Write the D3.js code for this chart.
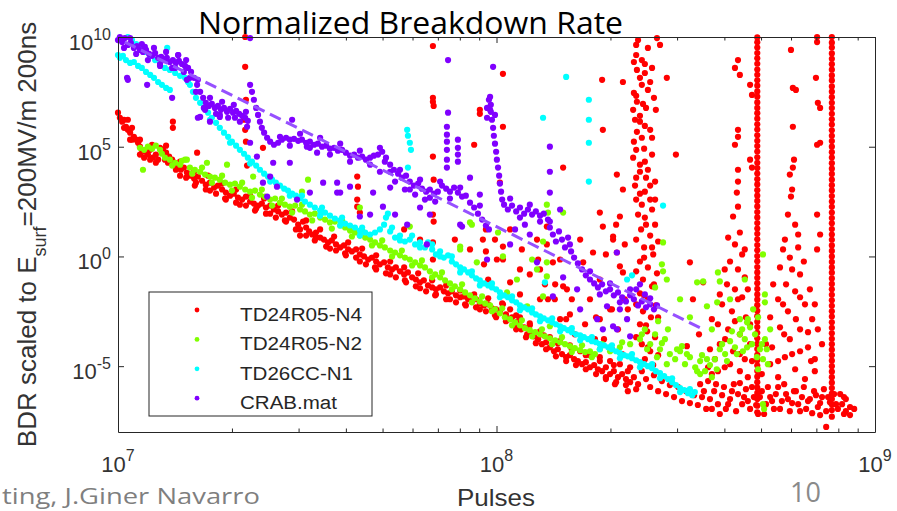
<!DOCTYPE html>
<html>
<head>
<meta charset="utf-8">
<script src="https://cdn.jsdelivr.net/npm/d3@7"></script>
<style>
  html, body { margin: 0; padding: 0; background: #fff; overflow: hidden; }
  svg { display: block; }
</style>
</head>
<body>
<div class="chart"></div>
<script>
// ---- data ------------------------------------------------------------
// every point is [log10(pulses), log10(BDR)]
var seriesNames = ["TD24R05-N4", "TD24R05-N2", "TD26CC-N1", "CRAB.mat"];
var seriesColors = ["#ff0000", "#80ff00", "#00ffff", "#8000ff"];

var n4 = [
  [7.000,6.55],[7.005,6.32],[7.011,6.14],[7.016,6.23],[7.021,5.91],[7.026,5.77],[7.032,5.64],[7.037,5.86],[7.042,5.45],[7.048,5.32],
  [7.053,5.18],[7.058,5.00],[7.063,4.86],[7.071,4.77],[7.079,4.64],[7.085,4.86],[7.092,4.50],[7.100,4.64],[7.106,4.41],[7.111,4.95],
  [7.119,4.86],[7.127,4.73],[7.135,4.55],[7.143,4.41],[7.151,4.27],[7.159,4.09],[7.166,3.95],[7.174,4.05],[7.182,3.82],[7.190,3.68],
  [7.201,3.55],[7.211,3.64],[7.222,3.45],[7.232,3.27],[7.243,3.36],[7.254,3.14],[7.264,3.23],[7.275,3.05],[7.285,2.91],[7.296,2.77],
  [7.306,2.86],[7.317,2.68],[7.328,2.59],[7.338,2.73],[7.349,2.50],[7.359,2.41],[7.370,2.32],[7.380,2.41],[7.391,2.23],[7.402,2.32],
  [7.412,2.14],[7.423,2.05],[7.433,1.91],[7.444,2.00],[7.454,1.77],[7.465,1.68],[7.476,1.45],[7.481,1.23],[7.489,1.59],[7.497,1.32],
  [7.505,1.14],[7.513,1.00],[7.523,1.09],[7.534,0.86],[7.544,0.77],[7.555,0.64],[7.565,0.73],[7.576,0.55],[7.587,0.41],[7.597,0.50],
  [7.608,0.32],[7.618,0.23],[7.629,0.32],[7.639,0.09],[7.650,0.00],[7.661,-0.14],[7.671,-0.05],[7.682,-0.23],[7.692,-0.36],[7.703,-0.27],
  [7.713,-0.50],[7.724,-0.59],[7.734,-0.50],[7.745,-0.68],[7.756,-0.82],[7.766,-0.73],[7.777,-0.95],[7.787,-1.05],[7.798,-1.18],[7.808,-1.09],
  [7.819,-1.32],[7.830,-1.41],[7.840,-1.50],[7.851,-1.41],[7.861,-1.59],[7.872,-1.68],[7.882,-1.59],[7.893,-1.77],[7.904,-1.86],[7.914,-1.82],
  [7.925,-1.95],[7.935,-2.05],[7.946,-1.95],[7.956,-2.14],[7.967,-2.23],[7.978,-2.18],[7.988,-2.36],[7.999,-2.41],[8.009,-2.50],
  [7.032,5.32],[7.058,4.64],[7.085,4.41],[7.124,4.41],[7.164,3.68],[7.203,3.23],[7.243,3.00],[7.283,2.64],[7.322,2.36],[7.362,2.09],
  [7.402,1.95],[7.441,1.64],[7.481,0.95],[7.520,0.73],[7.560,0.36],[7.600,0.14],[7.639,-0.23],[7.679,-0.50],[7.719,-0.82],[7.758,-1.09],
  [7.798,-1.45],[7.838,-1.77],[7.877,-1.95],[7.917,-2.18],[7.956,-2.41],[7.996,-2.68],
  [7.016,5.86],[7.037,5.32],[7.069,4.50],[7.100,4.27],[7.132,4.27],[7.153,3.95],[7.180,3.59],[7.206,3.36],[7.232,3.05],[7.259,2.86],
  [7.285,2.59],[7.312,2.45],[7.338,2.32],[7.365,2.18],[7.391,1.95],[7.417,1.77],[7.444,1.59],[7.470,1.23],[7.497,0.95],[7.523,0.86],
  [7.550,0.45],[7.576,0.27],[7.602,0.05],[7.629,-0.05],[7.655,-0.36],[7.682,-0.59],[7.708,-0.77],[7.734,-0.95],[7.761,-1.18],[7.787,-1.36],
  [7.814,-1.59],[7.840,-1.73],[7.867,-1.95],[7.893,-2.09],[7.919,-2.23],[7.946,-2.32],[7.972,-2.50],[7.999,-2.77],[8.025,-2.95],[8.052,-3.32],
  [8.078,-3.68],[8.104,-3.95],[8.131,-4.23],[8.157,-4.55],[8.184,-4.77],[8.210,-4.95],[8.236,-5.14],[8.263,-5.36],[8.289,-5.50],[8.316,-5.73],
  [8.342,-5.86],[8.369,-6.05],
  [7.026,6.23],[7.058,5.32],[7.090,5.09],[7.127,5.05],[7.164,4.32],[7.201,3.86],[7.238,3.68],[7.275,3.32],[7.312,3.05],[7.349,2.77],
  [7.386,2.64],[7.423,2.32],[7.460,2.05],[7.497,1.64],[7.534,1.23],[7.571,0.91],[7.608,0.64],[7.645,0.36],[7.682,0.05],[7.719,-0.23],
  [7.756,-0.50],[7.793,-0.77],[7.830,-1.09],[7.867,-1.32],[7.904,-1.55],[7.941,-1.73],[7.978,-1.91],[8.015,-2.14],[8.052,-2.68],[8.088,-3.14],
  [8.125,-3.59],[8.162,-3.95],[8.199,-4.23],[8.236,-4.50],[8.273,-4.77],[8.310,-4.95],[8.347,-5.23],
  [8.017,-2.18],[8.025,-2.64],[8.033,-2.86],[8.041,-2.77],[8.049,-3.09],[8.057,-2.95],[8.065,-3.32],[8.073,-3.23],[8.081,-3.55],[8.088,-3.45],
  [8.099,-3.64],[8.110,-3.77],[8.120,-4.00],[8.131,-3.91],[8.141,-4.14],[8.152,-4.32],[8.162,-4.23],[8.173,-4.45],[8.184,-4.59],[8.194,-4.50],
  [8.205,-4.68],[8.215,-4.77],[8.226,-4.91],[8.236,-4.82],[8.247,-5.05],[8.258,-4.95],[8.268,-5.14],[8.279,-5.23],[8.289,-5.05],[8.300,-5.36],
  [8.310,-5.23],[8.321,-5.50],[8.332,-5.36],[8.342,-5.59],[8.353,-5.73],[8.363,-5.50],[8.374,-5.82],
  [8.036,-2.41],[8.062,-2.77],[8.088,-3.05],[8.115,-3.41],[8.141,-3.68],[8.168,-3.86],[8.194,-4.05],[8.221,-4.32],[8.247,-4.50],[8.273,-4.59],
  [8.300,-4.77],[8.326,-4.91],[8.353,-5.05],
  [8.384,-5.23],[8.395,-5.59],[8.406,-5.95],[8.416,-5.41],[8.427,-6.14],[8.437,-5.68],[8.448,-6.27],[8.458,-5.86],[8.469,-6.41],[8.480,-5.95],
  [8.490,-6.59],[8.501,-6.14],[8.511,-6.68],[8.522,-6.32],[8.532,-6.77],[8.543,-6.41],[8.554,-6.95],[8.564,-6.50],[8.575,-6.14],[8.585,-6.73],
  [8.596,-6.32],[8.606,-6.95],[8.617,-6.50],
  [8.627,-5.82],[8.638,-6.27],[8.649,-6.73],[8.659,-6.05],[8.670,-6.95],[8.680,-6.41],[8.691,-7.18],[8.701,-6.14],[8.712,-6.73],[8.723,-6.41],
  [8.733,-6.95],[8.744,-5.95],[8.754,-6.59],[8.765,-6.27],[8.775,-7.05],[8.786,-6.14],[8.797,-6.73],[8.807,-6.41],[8.818,-6.95],[8.828,-6.50],
  [8.839,-6.14],[8.849,-6.86],[8.860,-6.41],[8.871,-7.05],[8.881,-6.64],[8.892,-6.27],[8.902,-6.95],[8.913,-6.73],[8.923,-7.05],[8.934,-6.86],
  [8.918,-6.41],[8.871,-7.77],
  [8.538,-5.82],[8.548,-6.14],[8.559,-5.68],[8.569,-6.95],[8.580,-5.82],[8.590,-7.18],[8.601,-5.95],[8.612,-6.73],[8.622,-6.14],[8.633,-7.05],
  [8.643,-5.77],[8.654,-6.41],[8.664,-6.59],[8.675,-5.95],[8.686,-6.77],[8.696,-6.41],[8.707,-7.18],[8.717,-5.95],[8.728,-6.59],[8.738,-6.27],
  [8.749,-6.95],[8.760,-5.82],[8.770,-6.50],[8.781,-6.68],[8.791,-6.14],[8.802,-7.05],[8.812,-5.95],[8.823,-6.59],[8.834,-7.14],[8.844,-6.32],
  [8.855,-6.68],[8.865,-6.05],[8.876,-6.41],[8.897,-6.73],[8.908,-6.27],[8.923,-6.50],[8.934,-7.23],[8.945,-6.95],[8.918,-7.18],[8.855,-7.23],
  // scattered breakdown bursts
  [7.336,10.0],[7.336,8.64],[7.338,7.14],[7.333,6.23],[7.336,5.77],[7.338,5.23],[7.341,4.14],[7.145,6.14],[7.145,5.86],[7.209,4.73],[7.383,4.95],
  [7.832,9.59],[7.832,7.23],[7.832,7.05],[7.834,6.86],[7.832,4.55],[7.834,3.50],[7.832,1.91],[7.834,1.59],[7.832,0.64],
  [7.956,6.68],[7.956,6.50],[7.941,5.09],[8.017,8.32],[8.017,5.91],[8.009,3.36],
  [7.632,3.64],[7.634,3.18],[7.632,2.59],[7.632,2.27],[7.639,2.00],
  [7.964,0.77],[7.972,0.23],[7.967,-0.36],[7.978,-1.05],[8.017,0.45],[8.017,-0.14],[8.107,0.77],[8.110,-0.14],[8.176,4.05],[8.036,-1.18],[8.062,-0.59],
  [8.133,1.36],[8.133,0.55],[8.149,-0.27],[8.176,-1.36],[8.186,-1.50],[8.229,-0.27],[8.255,0.18],[8.281,1.36],[8.308,0.91],[8.318,0.18],
  [8.326,-0.45],[8.334,-0.73],[8.273,2.00],[8.326,1.82],[8.308,0.77],[8.339,-1.95],[8.300,-2.41],[8.273,-2.86],[8.234,-3.09],[8.260,-3.77],
  [8.207,-3.55],[8.168,-2.86],[8.128,-1.27],[8.154,-1.95],[8.194,-2.64],[8.115,-1.95],
  [8.036,1.23],[8.067,0.32],[8.088,-0.82],[8.136,-1.95],[8.168,-0.14],[8.199,-1.95],[8.221,0.77],[8.247,-1.95],[8.273,-1.05],[8.289,0.09],
  [8.305,-2.41],[8.316,1.45],[8.339,0.55],[8.347,-2.41],[8.321,-3.32],[8.263,-2.77],[8.184,-2.86],[8.155,-1.27],[8.115,-0.59],[8.062,-1.73],
  [8.001,-0.14],[7.996,0.77],[7.972,1.23],[7.930,0.32],[7.890,0.77],[7.832,-0.14],[7.798,0.77],[7.756,1.23],
  [8.284,-3.77],[8.305,-4.23],[8.332,-4.45],[8.347,-6.14],[8.313,-5.82],[8.289,-5.59],
  [8.369,9.64],[8.369,9.18],[8.384,8.95],[8.392,8.77],[8.371,8.50],[8.392,8.36],[8.379,8.14],[8.406,7.95],[8.400,7.59],[8.363,7.45],
  [8.371,7.05],[8.387,6.95],[8.361,6.68],[8.379,6.41],[8.421,6.68],[8.366,6.23],[8.392,5.95],[8.371,5.68],[8.411,5.41],[8.363,5.23],
  [8.390,4.91],[8.361,4.50],[8.392,4.32],[8.379,3.86],[8.395,3.59],[8.366,3.23],[8.406,3.23],[8.379,2.86],[8.419,2.59],[8.424,9.95],
  [8.432,9.64],[8.450,8.14],[8.474,4.64],[8.334,7.95],[8.279,8.05],[8.281,5.77],[8.318,3.73],[8.334,3.05],
  [8.374,9.86],[8.400,9.50],[8.363,8.86],[8.411,8.59],[8.384,7.82],[8.369,7.32],[8.416,7.23],[8.395,6.77],[8.379,6.14],[8.406,5.77],
  [8.384,5.41],[8.369,4.86],[8.411,4.64],[8.379,4.18],[8.400,3.95],[8.369,3.59],[8.419,3.41],[8.392,2.95],[8.369,2.59],[8.406,2.59],
  [8.374,1.91],[8.395,1.45],[8.369,0.77],[8.411,0.41],[8.390,-0.05],[8.369,-0.68],[8.416,-1.27],[8.390,-1.77],[8.369,-2.18],[8.427,-2.77],
  [8.395,-3.14],[8.369,-3.68],[8.400,-4.14],[8.427,-4.50],
  [8.384,2.36],[8.411,2.14],[8.392,1.77],[8.419,1.45],[8.382,1.23],[8.406,0.95],[8.427,0.68],[8.390,0.41],[8.414,0.09],[8.379,-0.23],
  [8.400,-0.50],[8.424,-0.77],[8.387,-1.05],[8.411,-1.36],[8.379,-1.68],[8.400,-1.95],[8.421,-2.23],[8.387,-2.50],[8.408,-2.77],[8.379,-3.09],
  [8.398,-3.41],[8.419,-3.68],[8.384,-4.00],[8.406,-4.32],[8.392,-4.68],[8.414,-4.95],
  [8.638,8.95],[8.630,8.59],[8.643,8.27],[8.670,7.82],[8.675,7.36],[8.638,5.77],[8.638,5.45],[8.630,5.09],[8.670,4.41],[8.675,4.05],
  [8.638,3.95],[8.638,3.41],[8.635,2.91],[8.638,2.27],[8.625,1.82],[8.643,1.09],[8.630,0.55],[8.649,0.09],[8.617,-0.23],[8.638,-0.59],
  [8.656,-0.95],[8.609,-1.27],[8.630,-1.50],[8.649,-1.86],[8.596,-2.18],[8.622,-2.50],[8.659,-2.77],[8.585,-3.09],[8.612,-3.32],[8.643,-3.55],
  [8.670,-4.00],[8.590,-4.00],[8.625,-4.32],[8.656,-4.68],[8.577,-4.68],[8.603,-5.05],[8.643,-5.23],[8.664,-5.50],[8.569,-5.36],
  [8.612,0.86],[8.656,0.32],[8.603,-0.59],[8.664,-1.50],[8.590,-1.73],[8.638,-1.95],[8.569,-2.86],[8.670,-3.09],[8.630,-2.95],[8.604,-3.77],
  [8.564,-4.23],[8.643,-4.45],[8.675,-4.77],[8.617,-4.91],[8.559,-5.05],[8.585,-5.23],
  [8.511,-0.27],[8.519,-1.95],[8.546,-1.18],[8.503,-4.09],[8.535,-3.55],
  [8.778,9.41],[8.783,7.68],[8.791,7.59],[8.783,5.91],[8.786,4.41],[8.783,4.05],[8.775,3.73],[8.781,3.05],[8.778,2.73],[8.770,1.91],
  [8.789,1.45],[8.762,0.77],[8.797,0.41],[8.775,-0.05],[8.749,-0.50],[8.802,-0.82],[8.765,-1.27],[8.789,-1.59],[8.744,-1.95],[8.815,-2.18],
  [8.770,-2.50],[8.791,-2.86],[8.749,-3.23],[8.823,-3.45],[8.775,-3.77],[8.728,-4.14],[8.802,-4.32],[8.762,-4.59],[8.831,-4.77],[8.723,-4.91],
  [8.789,-5.14],[8.744,-5.50],[8.815,-5.59],
  [8.797,1.00],[8.757,0.32],[8.812,-0.23],[8.781,-0.59],[8.731,-1.27],[8.828,-1.50],[8.802,-1.86],[8.757,-2.18],[8.723,-2.77],[8.834,-2.86],
  [8.802,-3.32],[8.760,-3.55],[8.712,-4.00],[8.823,-4.14],[8.781,-4.45],[8.744,-4.77],[8.841,-5.23],[8.701,-5.36],
  [8.847,10.0],[8.847,9.77],[8.844,8.14],[8.849,7.00],[8.855,6.77],[8.847,5.09],[8.855,5.18],[8.847,1.91],[8.855,1.00],[8.847,0.32],
  [8.841,-2.18],[8.849,-3.32],[8.860,-4.00],[8.841,-4.68]
];

// the two solid red columns (one pulse count, many rates)
var n4Columns = [
  { pulses: 8.689, bdr: [9.98,9.76,9.52,9.27,9.03,8.78,8.52,8.28,8.03,7.78,7.52,7.28,7.02,6.77,6.53,6.28,6.02,5.78,5.52,5.27,
    5.03,4.78,4.52,4.27,4.03,3.78,3.52,3.28,3.02,2.77,2.53,2.28,2.02,1.78,1.52,1.27,1.03,0.78,0.52,0.28,0.02,-0.22,-0.48,
    -0.73,-0.97,-1.22,-1.48,-1.73,-1.97,-2.22,-2.48,-2.72,-2.98,-3.22,-3.48,-3.73,-3.98,-4.22,-4.48,-4.73,-4.97,-5.22,-5.48,
    -5.73,-5.98,-6.22,-6.50,-6.80,-7.10] },
  { pulses: 8.886, bdr: [10.0,9.74,9.52,9.25,9.01,8.76,8.51,8.25,8.02,7.75,7.51,7.26,7.0,6.76,6.5,6.25,6.01,5.75,5.5,5.26,
    5.0,4.75,4.51,4.25,4.0,3.76,3.5,3.25,3.01,2.75,2.5,2.26,2.0,1.75,1.51,1.25,1.0,0.76,0.5,0.25,0.0,-0.25,-0.5,-0.74,-1.0,
    -1.25,-1.5,-1.75,-2.0,-2.25,-2.5,-2.74,-3.0,-3.25,-3.5,-3.75,-4.0,-4.25,-4.5,-4.75,-5.0,-5.25,-5.5,-5.75,-6.0,-6.25,
    -6.5,-6.75,-7.0,-7.3] }
];

var n2 = [
  [7.058,4.95],[7.069,4.86],[7.079,5.00],[7.090,4.91],[7.100,5.05],[7.111,4.86],[7.066,3.95],
  [7.124,4.50],[7.137,4.41],[7.151,4.27],[7.164,4.18],[7.177,4.41],[7.190,4.05],[7.203,3.95],[7.217,3.86],[7.230,3.73],[7.243,3.64],
  [7.256,3.59],[7.269,3.50],[7.283,3.36],[7.296,3.27],[7.309,3.32],[7.322,3.18],[7.336,3.05],[7.349,2.95],[7.362,3.00],[7.375,2.82],
  [7.388,2.73],[7.402,2.59],[7.415,2.64],[7.428,2.45],[7.441,2.36],[7.454,2.27],[7.468,2.32],[7.481,2.14],[7.494,2.05],[7.507,1.91],
  [7.520,1.95],[7.534,1.77],[7.547,1.68],[7.560,1.55],[7.573,1.59],[7.587,1.41],[7.600,1.32],[7.613,1.18],[7.626,1.09],[7.639,0.95],
  [7.653,0.86],[7.666,0.77],[7.679,0.64],[7.692,0.50],[7.705,0.41],[7.719,0.27],[7.732,0.18],[7.745,0.05],[7.758,-0.05],[7.771,-0.14],
  [7.785,-0.27],[7.798,-0.41],[7.811,-0.50],[7.824,-0.68],[7.838,-0.82],[7.851,-0.95],[7.864,-1.09],[7.877,-1.23],[7.890,-1.36],[7.904,-1.50],
  [7.917,-1.64],[7.930,-1.77],[7.943,-1.91],[7.956,-2.05],[7.970,-2.14],[7.983,-2.23],[7.996,-2.41],[8.009,-2.59],[8.022,-2.77],[8.036,-2.86],
  [8.049,-3.00],[8.062,-3.14],[8.075,-3.27],[8.088,-3.36],[8.102,-3.45],[8.115,-3.55],[8.128,-3.64],[8.141,-3.73],[8.155,-3.82],[8.168,-3.91],
  [8.181,-4.00],[8.194,-4.09],[8.207,-4.18],[8.221,-4.27],[8.234,-4.36],[8.247,-4.32],[8.260,-4.45],
  [7.143,4.14],[7.196,3.77],[7.248,3.36],[7.301,3.00],[7.354,2.68],[7.407,2.32],[7.460,2.00],[7.513,1.64],[7.565,1.27],[7.618,0.91],
  [7.671,0.50],[7.724,0.00],[7.777,-0.41],[7.830,-0.95],[7.882,-1.50],[7.935,-2.09],[7.988,-2.50],[8.041,-3.14],[8.094,-3.64],[8.147,-4.00],
  [8.199,-4.36],[8.252,-4.59],
  [7.116,4.68],[7.169,4.36],[7.222,4.05],[7.275,3.68],[7.328,3.36],[7.380,3.05],[7.433,2.64],[7.486,2.36],[7.539,2.00],[7.592,1.64],
  [7.645,1.18],[7.698,0.73],[7.750,0.27],[7.803,-0.18],[7.856,-0.73],[7.909,-1.27],[7.962,-1.82],[8.015,-2.36],[8.067,-2.91],[8.120,-3.32],
  [8.173,-3.68],[8.226,-4.05],[8.279,-4.00],[8.332,-3.91],[8.384,-3.55],[8.437,-3.95],[8.490,-4.09],[8.543,-4.50],[8.596,-4.00],[8.649,-3.32],
  [8.701,-4.00],
  [8.273,-4.23],[8.300,-4.32],[8.326,-4.14],[8.353,-4.00],[8.379,-3.77],[8.392,-3.32],[8.406,-4.00],[8.419,-3.55],[8.432,-4.23],[8.445,-3.77],
  [8.458,-4.45],[8.472,-4.68],[8.485,-4.32],[8.498,-4.91],[8.511,-4.59],[8.525,-5.05],[8.538,-4.77],[8.551,-5.23],[8.564,-4.95],[8.577,-4.68],
  [8.590,-4.23],[8.604,-4.45],[8.617,-3.86],[8.630,-4.14],[8.643,-3.55],[8.656,-3.77],[8.670,-3.23],[8.675,-4.00],[8.683,-3.55],[8.696,-4.23],
  [8.704,-4.68],[8.709,-3.77],[8.717,-4.91],[8.704,-6.73],[8.707,-6.95],[8.427,-2.95],[8.453,-3.32],[8.538,-5.36],[8.569,-5.50],[8.651,-4.32],
  [8.691,-5.14],
  [8.398,-4.23],[8.424,-4.59],[8.450,-4.91],[8.477,-4.23],[8.503,-4.45],[8.530,-5.23],[8.556,-4.68],[8.582,-5.14],[8.609,-4.77],[8.635,-4.45],
  [8.662,-4.14],[8.688,-4.59],[8.714,-4.23],[8.622,-3.41],[8.664,-2.86],
  [8.440,0.64],[8.437,-0.36],[8.440,-0.68],[8.450,-1.05],[8.419,-1.41],[8.530,-1.18],[8.546,-1.14],[8.556,-2.27],[8.585,-0.73],[8.590,-1.14],
  [8.583,-2.09],[8.704,0.09],[8.709,-1.73],[8.709,-2.09],[8.662,-3.00],[8.678,-2.41],[8.643,-2.86],
  [8.485,-1.95],[8.511,-2.77],[8.617,-1.95],[8.656,-1.05],[8.569,-3.32],[8.691,-2.77],[8.723,-3.32],
  [8.133,2.36],[7.930,1.55],[7.904,0.32],[7.948,-0.27],[8.028,-1.64],[8.081,-2.27],[8.123,-1.82],[8.054,-1.05],[8.133,-0.27],[8.133,-0.91],
  [8.141,-3.18],[7.235,4.27],[7.182,4.41],[7.288,4.18],[7.357,3.64],[7.486,2.95],[7.502,3.50],
  [7.639,2.23],[7.771,1.36],[7.904,0.45],[7.935,1.45],[8.004,1.09],[8.017,0.00],[8.094,-0.14],[8.123,0.68],[8.136,2.00],[8.176,2.00],
  [8.107,-0.59]
];

var cc = [
  [7.026,10.0],[7.037,9.86],[7.048,9.68],[7.058,9.50],[7.071,9.32],[7.085,9.14],[7.098,8.95],[7.111,8.77],[7.124,8.59],[7.137,8.50],
  [7.151,8.36],[7.164,8.23],[7.177,8.14],[7.185,7.95],[7.130,9.50],
  [7.000,9.18],[7.005,9.05],[7.013,9.14],[7.021,8.95],[7.032,8.82],[7.042,8.86],[7.053,8.68],[7.063,8.59],[7.074,8.41],[7.085,8.27],
  [7.095,8.14],[7.106,7.95],[7.116,7.82],[7.127,7.68],[7.137,7.59],
  [7.190,7.82],[7.198,7.50],[7.206,7.23],[7.217,7.00],[7.227,6.77],[7.238,6.55],[7.248,6.32],[7.259,6.09],[7.269,5.86],[7.280,5.64],
  [7.291,5.45],[7.301,5.23],[7.312,5.05],[7.322,4.86],[7.333,4.68],[7.343,4.50],[7.354,4.32],[7.365,4.14],[7.375,3.95],[7.386,3.77],
  [7.396,3.64],[7.407,3.50],[7.417,3.36],[7.428,3.23],[7.439,3.09],[7.449,3.00],[7.460,2.86],[7.470,2.77],[7.481,2.64],[7.494,2.50],
  [7.507,2.36],[7.520,2.23],[7.534,2.09],[7.547,2.00],[7.560,1.86],[7.573,1.73],[7.587,1.64],[7.600,1.50],[7.613,1.41],[7.626,1.32],
  [7.639,1.18],[7.653,1.09],[7.666,1.00],[7.679,1.09],[7.692,1.23],[7.703,1.45],[7.708,1.77],[7.713,1.95],[7.719,1.14],[7.732,0.86],
  [7.745,0.95],[7.758,0.68],[7.771,0.77],[7.785,0.55],[7.798,0.64],[7.811,0.41],[7.819,0.64],[7.830,0.32],[7.840,0.09],[7.851,0.23],
  [7.861,-0.05],[7.872,0.05],[7.882,-0.23],[7.893,-0.36],[7.904,-0.50],[7.914,-0.59],[7.925,-0.73],[7.935,-0.86],[7.946,-1.00],[7.956,-1.09],
  [7.967,-1.23],[7.978,-1.32],[7.988,-1.41],[7.999,-1.50],[8.009,-1.64],[8.020,-1.77],[8.030,-1.86],[8.041,-2.00],[8.052,-2.09],[8.062,-2.23],
  [8.073,-2.32],[8.083,-2.41],[8.094,-2.55],[8.104,-2.64],[8.115,-2.73],[8.125,-2.82],[8.136,-2.91],[8.147,-3.00],[8.157,-3.09],[8.168,-3.18],
  [8.178,-3.27],[8.189,-3.36],[8.199,-3.45],[8.210,-3.55],[8.221,-3.59],[8.231,-3.68],[8.242,-3.77],[8.252,-3.86],[8.263,-3.91],[8.273,-4.00],
  [8.284,-4.05],[8.295,-4.14],[8.305,-4.23],[8.316,-4.32],[8.326,-4.41],[8.337,-4.50],[8.347,-4.55],[8.358,-4.64],[8.369,-4.73],[8.379,-4.82],
  [8.390,-4.91],[8.400,-5.00],[8.411,-5.09],[8.421,-5.23],[8.432,-5.32],[8.443,-5.45],[8.453,-5.59],[8.464,-5.73],[8.474,-5.86],[8.485,-6.00],
  [8.496,-6.09],[8.506,-6.23],[8.517,-6.32],[8.524,-6.18],
  [7.243,6.23],[7.296,5.18],[7.349,4.23],[7.402,3.41],[7.454,2.77],[7.534,1.86],[7.587,1.41],[7.639,0.95],[7.745,0.73],[7.798,0.41],
  [7.851,0.00],[7.904,-0.73],[7.956,-1.32],[8.009,-1.86],[8.062,-2.45],[8.115,-2.95],[8.168,-3.41],[8.221,-3.82],[8.273,-4.23],[8.326,-4.64],
  [8.379,-5.05],[8.432,-5.55],[8.485,-6.18],
  [7.486,2.77],[7.539,2.23],[7.592,1.77],[7.645,1.32],[7.724,1.32],[7.777,0.95],[7.830,0.55],[7.882,0.00],[7.935,-0.68],[7.988,-1.23],
  [8.041,-1.82],[8.094,-2.36],[8.147,-2.82],[8.199,-3.27],[8.252,-3.68],[8.305,-4.05],[8.358,-4.45],[8.411,-4.91],[8.464,-5.55],[8.511,-6.05],
  [7.764,5.77],[7.766,5.50],[7.771,5.18],[7.774,4.86],[7.766,4.05],[8.123,6.32],[8.184,8.18],[8.244,7.14],[8.244,6.23],[8.244,5.18],
  [8.244,3.41],[8.345,-1.05],[8.358,-0.86],[8.440,2.32],[8.128,-1.18]
];

var crab = [
  [7.000,9.86],[7.005,10.0],[7.011,9.77],[7.018,9.95],[7.026,9.64],[7.034,9.73],[7.042,9.50],[7.050,9.59],[7.058,9.41],[7.066,9.32],
  [7.074,9.41],[7.082,9.23],[7.090,9.14],[7.098,9.27],[7.106,9.05],[7.114,9.09],[7.122,8.95],[7.129,9.05],[7.137,8.86],[7.145,8.95],
  [7.153,8.82],[7.161,8.91],[7.169,8.77],[7.177,8.68],[7.185,8.59],[7.193,8.41],[7.201,8.14],[7.209,7.82],[7.217,7.50],[7.225,7.23],
  [7.232,7.00],[7.240,6.86],[7.248,6.95],[7.256,6.77],[7.264,6.86],[7.272,6.68],[7.280,6.77],[7.288,6.59],[7.296,6.73],[7.304,6.55],
  [7.312,6.64],[7.320,6.50],[7.328,6.41],[7.336,6.32],[7.343,6.18],
  [7.111,8.77],[7.151,8.59],[7.190,8.14],[7.230,6.68],[7.269,6.45],[7.309,6.32],[7.071,9.55],[7.159,9.18],
  [7.016,9.50],[7.048,9.23],[7.079,8.95],[7.111,8.68],[7.143,8.59],[7.174,8.41],[7.206,7.50],[7.227,6.77],[7.259,6.50],[7.291,6.32],
  [7.322,6.14],[7.032,9.95],[7.063,9.68],[7.095,9.50],[7.127,9.32],[7.159,9.18],[7.180,8.95],[7.211,8.05],[7.243,7.23],[7.275,7.05],
  [7.306,6.91],[7.338,6.59],
  [7.349,7.82],[7.354,7.50],[7.359,7.14],[7.365,6.77],[7.370,6.45],[7.375,6.14],[7.380,5.86],[7.386,5.64],[7.394,5.41],[7.402,5.23],
  [7.412,5.09],[7.423,5.18],[7.433,5.32],[7.444,5.41],[7.454,5.32],[7.465,5.36],[7.476,5.27],[7.486,5.32],[7.497,5.18],[7.507,5.23],
  [7.518,5.09],[7.528,5.14],[7.539,5.00],[7.550,5.05],[7.560,4.91],[7.571,4.95],[7.581,4.82],[7.592,4.86],[7.602,4.73],[7.613,4.59],
  [7.624,4.64],[7.634,4.50],[7.645,4.55],[7.655,4.41],[7.666,4.50],[7.676,4.59],[7.687,4.64],[7.698,4.77],[7.708,4.50],[7.719,4.18],
  [7.729,3.95],[7.740,3.77],[7.750,3.59],[7.761,3.68],[7.771,3.41],[7.782,3.23],[7.793,3.32],[7.803,3.09],[7.814,2.95],[7.824,3.05],
  [7.835,2.86],[7.845,2.95],[7.856,3.23],[7.867,3.09],[7.877,2.95],[7.888,3.14],[7.898,2.91],[7.909,2.73],[7.919,2.77],[7.930,2.45],
  [7.941,2.23],[7.951,1.95],[7.962,1.68],[7.972,1.41],[7.980,1.23],
  [7.428,5.45],[7.481,5.59],[7.534,5.41],[7.587,5.14],[7.639,4.82],[7.692,4.95],[7.745,3.95],[7.798,3.50],[7.851,3.41],[7.904,3.14],
  [7.956,2.32],[8.036,2.64],[8.088,2.36],[8.141,1.59],[8.194,0.55],[8.247,-0.68],[8.300,-1.23],[8.353,-1.50],[8.406,-1.91],
  [7.705,4.32],[7.732,3.41],[7.758,3.05],[7.785,2.82],[7.811,2.59],[7.838,2.50],[7.692,3.86],[7.719,3.14],
  [7.983,7.27],[7.985,6.91],[7.985,6.59],[7.988,6.23],[7.991,5.86],[7.993,5.50],[7.996,5.14],[7.999,4.77],[8.001,4.41],[8.004,4.05],
  [8.007,3.68],[8.009,3.32],[8.012,2.95],[8.015,2.59],[7.980,7.14],[7.983,6.68],[7.975,6.77],[7.996,6.45],[7.975,6.32],
  [8.020,2.36],[8.030,2.14],[8.041,2.32],[8.052,2.05],[8.062,2.23],[8.073,1.95],[8.083,2.14],[8.094,1.91],[8.104,2.05],[8.115,1.86],
  [8.125,1.95],[8.136,1.68],
  [8.141,1.32],[8.149,1.00],[8.157,0.68],[8.165,1.14],[8.173,0.77],[8.181,0.41],[8.189,0.86],[8.197,0.23],[8.205,-0.05],[8.215,-0.32],
  [8.226,-0.59],[8.236,-0.86],[8.247,-1.05],[8.258,-1.23],[8.268,-1.41],[8.279,-1.27],[8.289,-1.59],[8.300,-1.50],[8.310,-1.77],[8.321,-1.64],
  [8.332,-1.86],[8.342,-2.05],[8.353,-1.77],[8.363,-1.95],[8.374,-2.23],[8.384,-2.05],[8.395,-2.32],[8.406,-2.18],[8.416,-2.41],[8.424,-2.23],
  [8.369,-1.50],[8.379,-1.27],[8.392,-1.73],
  [7.454,5.05],[7.507,4.95],[7.560,4.64],[7.613,4.32],[7.666,4.18],[7.719,3.86],[7.771,3.05],[7.824,2.68],[7.877,2.64],[8.062,1.77],
  [8.115,1.59],[8.273,-1.73],[8.326,-2.09],
  // scattered points
  [7.026,8.05],[7.077,7.82],[7.143,7.23],[7.211,6.32],[7.243,6.14],[7.341,5.91],[7.349,5.18],[7.367,4.55],[7.402,3.64],[7.420,3.18],
  [7.454,4.27],[7.460,6.23],[7.499,5.00],[7.526,4.73],[7.542,3.36],[7.579,3.36],[7.587,2.91],[7.507,2.91],[7.473,2.59],[7.394,2.73],
  [7.024,8.14],[7.182,8.05],[7.217,6.36],[7.269,6.36],[7.383,3.36],[7.410,4.27],[7.349,9.95],
  [7.872,8.95],[7.991,8.64],[7.872,6.55],[7.869,5.91],[7.869,5.55],[7.869,5.23],[7.869,4.86],[7.869,4.41],[7.869,4.05],[7.898,5.32],
  [7.898,4.95],[7.898,4.64],[7.898,4.32],[7.613,3.18],[7.579,2.91],[7.674,2.91],[7.700,2.27],[7.666,1.91],[7.639,1.82],[7.764,1.45],
  [7.904,1.45],[7.930,3.59],[7.975,-0.14],[8.141,5.00],[8.141,3.86],[8.141,2.91],[8.168,2.14],[8.107,-0.27],[8.176,-0.95],[7.816,0.55],
  [7.909,1.36],
  [8.149,-1.82],[8.213,-1.50],[8.221,-2.41],[8.266,-2.86],[8.281,-3.32],[8.318,-3.32],[8.345,-2.86],[8.326,-2.41],[8.292,-2.27],[8.308,-3.18],
  [8.318,0.18],[8.353,-3.64],
  [7.732,1.91],[7.798,2.23],[7.824,1.91],[7.956,2.82],[8.049,1.23],[8.075,1.45],[8.088,1.00],[8.036,0.55]
];

// power-law fit drawn dashed over the CRAB data
var crabFit = [[7.018, 9.77], [8.546, -3.32]];

// axis ticks
var xMajor = [1e7, 1e8, 1e9];
var xMajorExp = ["7", "8", "9"];
var xMinor = [2e7, 3e7, 4e7, 5e7, 6e7, 7e7, 8e7, 9e7, 2e8, 3e8, 4e8, 5e8, 6e8, 7e8, 8e8, 9e8];
var yMajor = [1e-5, 1e0, 1e5, 1e10];
var yMajorExp = ["-5", "0", "5", "10"];

// ---- layout ----------------------------------------------------------
var WIDTH = 897, HEIGHT = 511;
var margin = { top: 37, right: 22, bottom: 79, left: 118 };
var axisColor = "#262626";

var svg = d3.select(".chart").append("svg")
  .attr("width", WIDTH)
  .attr("height", HEIGHT);

var x = d3.scaleLog().domain([1e7, 1e9]).range([margin.left, WIDTH - margin.right]);
var y = d3.scaleLog().domain([1e-8, 1e10]).range([HEIGHT - margin.bottom, margin.top]);

var px = function (d) { return x(Math.pow(10, d[0])); };
var py = function (d) { return y(Math.pow(10, d[1])); };

// expand the columns into ordinary points
var n4All = n4.slice();
n4Columns.forEach(function (c) {
  c.bdr.forEach(function (b) { n4All.push([c.pulses, b]); });
});

var allSeries = [n4All, n2, cc, crab];

// ---- markers ---------------------------------------------------------
var plot = svg.append("g");
allSeries.forEach(function (data, i) {
  plot.append("g")
    .selectAll("circle")
    .data(data)
    .enter()
    .append("circle")
    .attr("cx", px)
    .attr("cy", py)
    .attr("r", 3.1)
    .attr("fill", seriesColors[i]);
});

// fit line
plot.append("path")
  .datum(crabFit)
  .attr("d", d3.line().x(px).y(py))
  .attr("fill", "none")
  .attr("stroke", "#9650ff")
  .attr("stroke-width", 3)
  .attr("stroke-dasharray", "12,6");

// ---- axes (box with inward ticks) -----------------------------------
var x0 = margin.left, x1 = WIDTH - margin.right;
var y0 = HEIGHT - margin.bottom, y1 = margin.top;

function styleAxis(g) {
  g.selectAll("path, line").attr("stroke", axisColor);
  g.selectAll("text").remove();
}

svg.append("g").attr("transform", "translate(0," + y0 + ")")
  .call(d3.axisBottom(x).tickValues(xMajor).tickSize(-6).tickSizeOuter(0).tickFormat(""))
  .call(styleAxis);
svg.append("g").attr("transform", "translate(0," + y1 + ")")
  .call(d3.axisTop(x).tickValues(xMajor).tickSize(-6).tickSizeOuter(0).tickFormat(""))
  .call(styleAxis);
svg.append("g").attr("transform", "translate(0," + y0 + ")")
  .call(d3.axisBottom(x).tickValues(xMinor).tickSize(-3.5).tickSizeOuter(0).tickFormat(""))
  .call(styleAxis).select(".domain").remove();
svg.append("g").attr("transform", "translate(0," + y1 + ")")
  .call(d3.axisTop(x).tickValues(xMinor).tickSize(-3.5).tickSizeOuter(0).tickFormat(""))
  .call(styleAxis).select(".domain").remove();
svg.append("g").attr("transform", "translate(" + x0 + ",0)")
  .call(d3.axisLeft(y).tickValues(yMajor).tickSize(-6).tickSizeOuter(0).tickFormat(""))
  .call(styleAxis);
svg.append("g").attr("transform", "translate(" + x1 + ",0)")
  .call(d3.axisRight(y).tickValues(yMajor).tickSize(-6).tickSizeOuter(0).tickFormat(""))
  .call(styleAxis);

// tick labels 10^n
var labelFont = "'Liberation Sans', Arial, Helvetica, sans-serif";
var tickColor = "#333";

xMajor.forEach(function (v, i) {
  var t = svg.append("text")
    .attr("x", x(v))
    .attr("y", 472)
    .attr("text-anchor", "middle")
    .style("font-family", labelFont)
    .style("font-size", "22px")
    .style("fill", tickColor);
  t.append("tspan").text("10");
  t.append("tspan").attr("dy", -11).style("font-size", "16px").text(xMajorExp[i]);
});

yMajor.forEach(function (v, i) {
  var t = svg.append("text")
    .attr("x", 111)
    .attr("y", y(v) + 13)
    .attr("text-anchor", "end")
    .style("font-family", labelFont)
    .style("font-size", "22px")
    .style("fill", tickColor);
  t.append("tspan").text("10");
  t.append("tspan").attr("dy", -10).style("font-size", "16px").text(yMajorExp[i]);
});

// axis titles
svg.append("text")
  .attr("x", 496)
  .attr("y", 506)
  .attr("text-anchor", "middle")
  .attr("textLength", 78)
  .attr("lengthAdjust", "spacingAndGlyphs")
  .style("font-family", labelFont)
  .style("font-size", "24px")
  .style("fill", tickColor)
  .text("Pulses");

var yTitle = svg.append("text")
  .attr("transform", "translate(36," + ((y0 + y1) / 2) + ") rotate(-90)")
  .attr("text-anchor", "middle")
  .style("font-family", labelFont)
  .style("font-size", "26px")
  .style("fill", tickColor);
yTitle.append("tspan").text("BDR scaled to E");
yTitle.append("tspan").attr("dy", 10).style("font-size", "18px").text("surf");
yTitle.append("tspan").attr("dy", -10).text("=200MV/m 200ns");

// ---- legend ----------------------------------------------------------
var legendWidths = [122, 122, 113, 97];
var legend = svg.append("g").attr("transform", "translate(149,292)");
legend.append("rect")
  .attr("width", 223)
  .attr("height", 124)
  .attr("fill", "#fff")
  .attr("stroke", axisColor)
  .attr("stroke-width", 1);
seriesNames.forEach(function (name, i) {
  legend.append("circle")
    .attr("cx", 48)
    .attr("cy", 18 + i * 29.4)
    .attr("r", 2.4)
    .attr("fill", seriesColors[i]);
  legend.append("text")
    .attr("x", 91)
    .attr("y", 29 + i * 29.4)
    .attr("textLength", legendWidths[i])
    .attr("lengthAdjust", "spacingAndGlyphs")
    .style("font-family", labelFont)
    .style("font-size", "18px")
    .style("fill", axisColor)
    .text(name);
});

// ---- slide texts -----------------------------------------------------
var slideFont = "'Open Sans', 'Noto Sans', sans-serif";
svg.append("text")
  .attr("x", 198)
  .attr("y", 34)
  .attr("textLength", 425)
  .attr("lengthAdjust", "spacingAndGlyphs")
  .style("font-family", slideFont)
  .style("font-size", "31px")
  .style("fill", "#000")
  .text("Normalized Breakdown Rate");

svg.append("text")
  .attr("x", 2)
  .attr("y", 504)
  .attr("textLength", 258)
  .attr("lengthAdjust", "spacingAndGlyphs")
  .style("font-family", slideFont)
  .style("font-size", "21px")
  .style("fill", "#7f7f7f")
  .text("ting, J.Giner Navarro");

svg.append("text")
  .attr("x", 790)
  .attr("y", 502)
  .style("font-family", slideFont)
  .style("font-size", "27px")
  .style("fill", "#8a8a8a")
  .text("10");
</script>
</body>
</html>
